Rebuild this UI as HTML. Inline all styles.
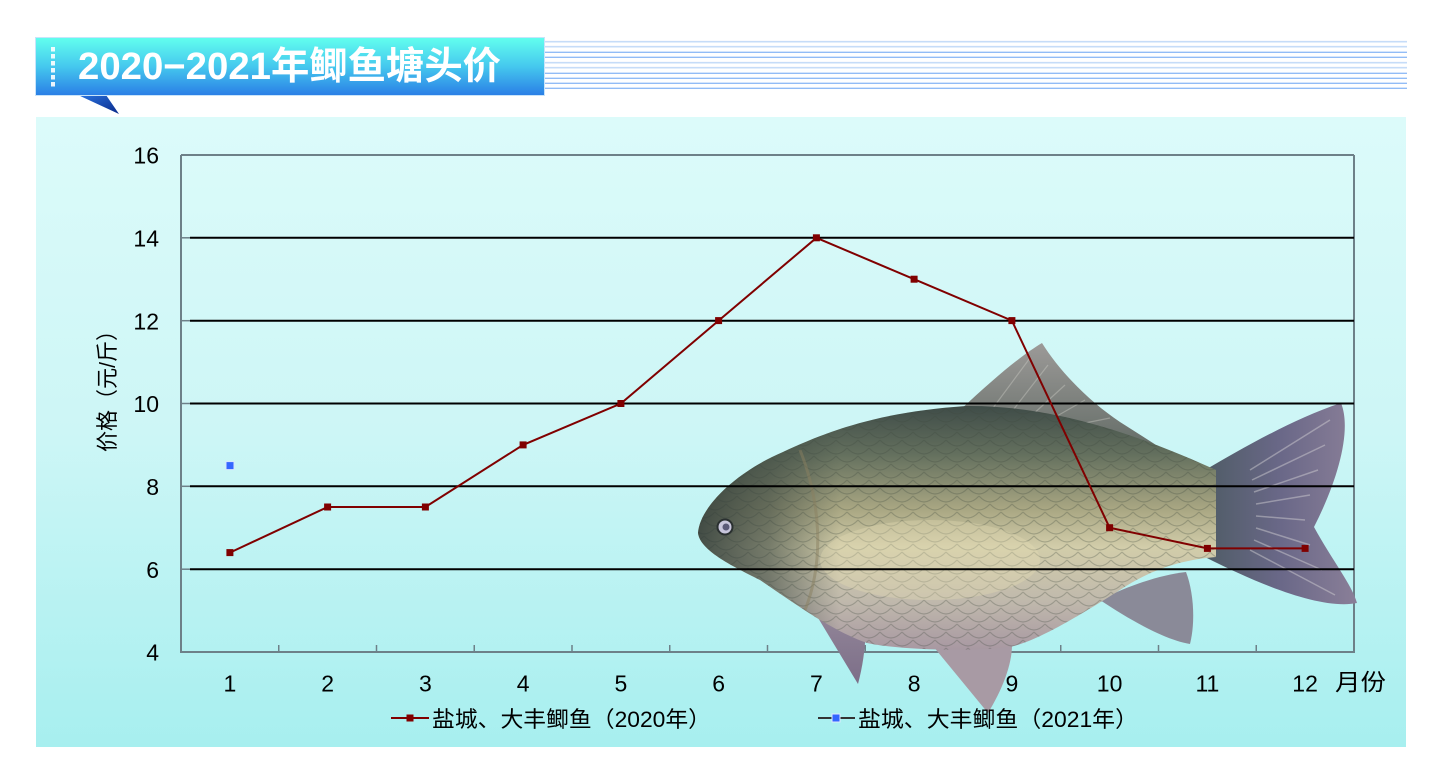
<!DOCTYPE html>
<html><head><meta charset="utf-8"><style>
html,body{margin:0;padding:0;background:#fff;}
svg{display:block;}
text{font-family:"Liberation Sans","Noto Sans CJK SC",sans-serif;}
</style></head><body>
<svg width="1442" height="780" viewBox="0 0 1442 780" xmlns="http://www.w3.org/2000/svg">
<defs>
<linearGradient id="pg" x1="0" y1="0" x2="0" y2="1">
<stop offset="0" stop-color="#dcfbfa"/><stop offset="0.5" stop-color="#cdf6f6"/><stop offset="1" stop-color="#a7efef"/>
</linearGradient>
<linearGradient id="tg" x1="0" y1="0" x2="0" y2="1">
<stop offset="0" stop-color="#62ffee"/><stop offset="0.5" stop-color="#45c8ee"/><stop offset="1" stop-color="#2a7ee6"/>
</linearGradient>
<linearGradient id="trg" x1="0" y1="0" x2="1" y2="1">
<stop offset="0" stop-color="#2a74e0"/><stop offset="1" stop-color="#0a2a8a"/>
</linearGradient>
<linearGradient id="bodyg" x1="0" y1="0" x2="0" y2="1">
<stop offset="0" stop-color="#3f4c48"/><stop offset="0.2" stop-color="#64705e"/><stop offset="0.42" stop-color="#a8a682"/><stop offset="0.58" stop-color="#d2cdaa"/><stop offset="0.8" stop-color="#c0b9ac"/><stop offset="1" stop-color="#a898a2"/>
</linearGradient>
<linearGradient id="headg" x1="698" y1="0" x2="840" y2="0" gradientUnits="userSpaceOnUse">
<stop offset="0" stop-color="#2c3836" stop-opacity="0.85"/><stop offset="0.5" stop-color="#3a4640" stop-opacity="0.6"/><stop offset="1" stop-color="#3a4640" stop-opacity="0"/>
</linearGradient>
<linearGradient id="tailg" x1="0" y1="0" x2="1" y2="0">
<stop offset="0" stop-color="#4f5c66"/><stop offset="0.5" stop-color="#6a6888"/><stop offset="1" stop-color="#8a7f98"/>
</linearGradient>
<linearGradient id="fing" x1="0" y1="0" x2="0" y2="1">
<stop offset="0" stop-color="#9a8e9e"/><stop offset="1" stop-color="#7c6e88"/>
</linearGradient>
<linearGradient id="dorg" x1="0" y1="0" x2="0" y2="1">
<stop offset="0" stop-color="#9c9a98"/><stop offset="1" stop-color="#5c6660"/>
</linearGradient>
<pattern id="scales" width="22" height="16" patternUnits="userSpaceOnUse">
<path d="M0,8 Q11,20 22,8 M-11,0 Q0,12 11,0 M11,0 Q22,12 33,0 M-11,16 Q0,28 11,16 M11,16 Q22,28 33,16" fill="none" stroke="#3c463c" stroke-opacity="0.28" stroke-width="1.2"/>
</pattern>
<clipPath id="bodyclip">
<path d="M698,533 C700,505 740,470 783,452 C830,430 880,412 966,406 C1060,405 1150,440 1216,470 L1216,557 C1180,560 1150,570 1120,590 C1080,615 1040,640 1010,647 C970,652 900,650 867,643 C830,630 790,600 760,580 C730,565 700,550 698,533 Z"/>
</clipPath>
</defs>

<!-- title banner -->
<g>
<line x1="545" y1="41.7" x2="1407" y2="41.7" stroke="#c6dcf8" stroke-width="1.6"/>
<line x1="545" y1="46.7" x2="1407" y2="46.7" stroke="#c6dcf8" stroke-width="1.6"/>
<line x1="545" y1="52.3" x2="1407" y2="52.3" stroke="#92bcf6" stroke-width="1.4"/>
<line x1="545" y1="57.3" x2="1407" y2="57.3" stroke="#92bcf6" stroke-width="1.4"/>
<line x1="545" y1="62.7" x2="1407" y2="62.7" stroke="#c6dcf8" stroke-width="1.6"/>
<line x1="545" y1="67.7" x2="1407" y2="67.7" stroke="#c6dcf8" stroke-width="1.6"/>
<line x1="545" y1="73.3" x2="1407" y2="73.3" stroke="#92bcf6" stroke-width="1.4"/>
<line x1="545" y1="78.3" x2="1407" y2="78.3" stroke="#92bcf6" stroke-width="1.4"/>
<line x1="545" y1="83.3" x2="1407" y2="83.3" stroke="#92bcf6" stroke-width="1.4"/>
<line x1="545" y1="88.3" x2="1407" y2="88.3" stroke="#92bcf6" stroke-width="1.4"/>
<polygon points="78,95 106,95 119,114" fill="url(#trg)"/>
<rect x="35.5" y="37.5" width="509" height="58" fill="url(#tg)" stroke="#c8e4fa" stroke-width="1"/>
<g fill="#ffffff" opacity="0.9">
<rect x="51" y="47" width="4" height="4.5"/><rect x="51" y="54" width="4" height="4.5"/><rect x="51" y="61" width="4" height="4.5"/><rect x="51" y="68" width="4" height="4.5"/><rect x="51" y="75" width="4" height="4.5"/><rect x="51" y="82" width="4" height="4.5"/>
</g>
<text x="78" y="79" font-size="38" font-weight="bold" fill="#ffffff" textLength="423" lengthAdjust="spacingAndGlyphs">2020−2021年鲫鱼塘头价</text>
</g>

<!-- panel -->
<rect x="36" y="117" width="1370" height="630" fill="url(#pg)"/>

<!-- axes frame -->
<g stroke="#6d8088" stroke-width="2" fill="none">
<line x1="181" y1="155" x2="1354" y2="155"/>
<line x1="181" y1="155" x2="181" y2="652"/>
<line x1="1354" y1="155" x2="1354" y2="652"/>
<line x1="180" y1="652" x2="1355" y2="652"/>
</g>
<g stroke="#6d8088" stroke-width="1.5">
<line x1="278.75" y1="652" x2="278.75" y2="645"/><line x1="376.5" y1="652" x2="376.5" y2="645"/><line x1="474.25" y1="652" x2="474.25" y2="645"/><line x1="572" y1="652" x2="572" y2="645"/><line x1="669.75" y1="652" x2="669.75" y2="645"/><line x1="767.5" y1="652" x2="767.5" y2="645"/><line x1="865.25" y1="652" x2="865.25" y2="645"/><line x1="963" y1="652" x2="963" y2="645"/><line x1="1060.75" y1="652" x2="1060.75" y2="645"/><line x1="1158.5" y1="652" x2="1158.5" y2="645"/><line x1="1256.25" y1="652" x2="1256.25" y2="645"/>
<line x1="181" y1="237.8" x2="190" y2="237.8"/><line x1="181" y1="320.7" x2="190" y2="320.7"/><line x1="181" y1="403.5" x2="190" y2="403.5"/><line x1="181" y1="486.3" x2="190" y2="486.3"/><line x1="181" y1="569.2" x2="190" y2="569.2"/>
</g>

<!-- fish -->
<g>
<path d="M1205,470 C1240,450 1290,420 1341,403 C1352,430 1338,480 1314,527 C1332,560 1352,585 1357,603 C1322,610 1260,585 1205,557 Z" fill="url(#tailg)"/>
<g stroke="#d8d4d8" stroke-opacity="0.45" stroke-width="1.5" fill="none">
<path d="M1250,470 L1330,420"/><path d="M1252,480 L1325,445"/><path d="M1254,492 L1318,470"/><path d="M1256,504 L1310,495"/><path d="M1256,516 L1305,520"/><path d="M1256,528 L1310,545"/><path d="M1254,540 L1322,570"/><path d="M1250,550 L1335,595"/>
</g>
<path d="M958,412 C990,382 1020,356 1042,343 C1060,372 1090,402 1120,422 C1145,438 1165,450 1182,464 C1130,440 1040,420 958,412 Z" fill="url(#dorg)"/>
<g stroke="#d0d0c8" stroke-opacity="0.4" stroke-width="1.2" fill="none">
<path d="M990,412 L1030,358"/><path d="M1010,414 L1048,365"/><path d="M1030,417 L1065,385"/><path d="M1050,420 L1085,400"/><path d="M1075,425 L1110,418"/><path d="M1100,432 L1140,440"/>
</g>
<path d="M800,588 L858,684 C867,650 867,620 863,600 Z" fill="url(#fing)"/>
<path d="M928,640 L988,713 C1002,690 1012,665 1012,645 Z" fill="#a89aa4"/>
<path d="M1100,600 C1130,620 1165,640 1190,644 C1196,620 1193,590 1186,572 C1160,575 1130,585 1100,600 Z" fill="#8a8a98"/>
<path d="M698,533 C700,505 740,470 783,452 C830,430 880,412 966,406 C1060,405 1150,440 1216,470 L1216,557 C1180,560 1150,570 1120,590 C1080,615 1040,640 1010,647 C970,652 900,650 867,643 C830,630 790,600 760,580 C730,565 700,550 698,533 Z" fill="url(#bodyg)"/>
<g clip-path="url(#bodyclip)">
<rect x="690" y="400" width="540" height="260" fill="url(#scales)"/>
<rect x="690" y="400" width="160" height="260" fill="url(#headg)"/>
<ellipse cx="930" cy="560" rx="110" ry="40" fill="#e4dcb4" opacity="0.35"/>
<path d="M800,450 C820,500 825,560 805,610" stroke="#8a8060" stroke-width="3" fill="none" opacity="0.5"/>
</g>
<circle cx="725" cy="527" r="7.5" fill="#c8c6dc" stroke="#2a3030" stroke-width="2"/>
<circle cx="726" cy="527" r="3.5" fill="#5a5a78"/>
</g>

<!-- gridlines -->
<g stroke="#000" stroke-width="2">
<line x1="190" y1="237.8" x2="1354" y2="237.8"/>
<line x1="190" y1="320.7" x2="1354" y2="320.7"/>
<line x1="190" y1="403.5" x2="1354" y2="403.5"/>
<line x1="190" y1="486.3" x2="1354" y2="486.3"/>
<line x1="190" y1="569.2" x2="1354" y2="569.2"/>
</g>

<!-- data 2020 -->
<polyline points="229.9,552.6 327.6,507 425.4,507 523.1,444.9 620.9,403.5 718.6,320.6 816.4,237.8 914.1,279.2 1011.9,320.6 1109.6,527.7 1207.4,548.4 1305.1,548.4" fill="none" stroke="#800000" stroke-width="2"/>
<g fill="#800000">
<rect x="226.4" y="549.1" width="7" height="7"/><rect x="324.1" y="503.5" width="7" height="7"/><rect x="421.9" y="503.5" width="7" height="7"/><rect x="519.6" y="441.4" width="7" height="7"/><rect x="617.4" y="400" width="7" height="7"/><rect x="715.1" y="317.1" width="7" height="7"/><rect x="812.9" y="234.3" width="7" height="7"/><rect x="910.6" y="275.7" width="7" height="7"/><rect x="1008.4" y="317.1" width="7" height="7"/><rect x="1106.1" y="524.2" width="7" height="7"/><rect x="1203.9" y="544.9" width="7" height="7"/><rect x="1301.6" y="544.9" width="7" height="7"/>
</g>
<rect x="226" y="461.6" width="8" height="8" fill="#3366ff" stroke="#d8e4ff" stroke-width="1"/>

<!-- y tick labels -->
<g font-size="23" fill="#000" text-anchor="end">
<text x="159" y="163.5">16</text>
<text x="159" y="246.5">14</text>
<text x="159" y="329.5">12</text>
<text x="159" y="412">10</text>
<text x="159" y="495">8</text>
<text x="159" y="578">6</text>
<text x="159" y="660.5">4</text>
</g>
<text transform="translate(115,386) rotate(-90)" font-size="22" fill="#000" text-anchor="middle" textLength="132" lengthAdjust="spacingAndGlyphs">价格（元/斤）</text>

<!-- x tick labels -->
<g font-size="23" fill="#000" text-anchor="middle">
<text x="229.9" y="691.5">1</text><text x="327.6" y="691.5">2</text><text x="425.4" y="691.5">3</text><text x="523.1" y="691.5">4</text><text x="620.9" y="691.5">5</text><text x="718.6" y="691.5">6</text><text x="816.4" y="691.5">7</text><text x="914.1" y="691.5">8</text><text x="1011.9" y="691.5">9</text><text x="1109.6" y="691.5">10</text><text x="1207.4" y="691.5">11</text><text x="1305.1" y="691.5">12</text>
</g>
<text x="1335" y="690" font-size="23" fill="#000" textLength="51" lengthAdjust="spacingAndGlyphs">月份</text>

<!-- legend -->
<line x1="391" y1="718" x2="429" y2="718" stroke="#800000" stroke-width="2"/>
<rect x="406.5" y="714.5" width="7" height="7" fill="#800000"/>
<text x="432" y="727" font-size="22" fill="#000" textLength="279" lengthAdjust="spacingAndGlyphs">盐城、大丰鲫鱼（2020年）</text>
<line x1="818" y1="718" x2="855" y2="718" stroke="#333" stroke-width="2"/>
<rect x="832" y="714" width="8" height="8" fill="#3366ff" stroke="#e0e8ff" stroke-width="1"/>
<text x="858" y="727" font-size="22" fill="#000" textLength="280" lengthAdjust="spacingAndGlyphs">盐城、大丰鲫鱼（2021年）</text>
</svg>
</body></html>
